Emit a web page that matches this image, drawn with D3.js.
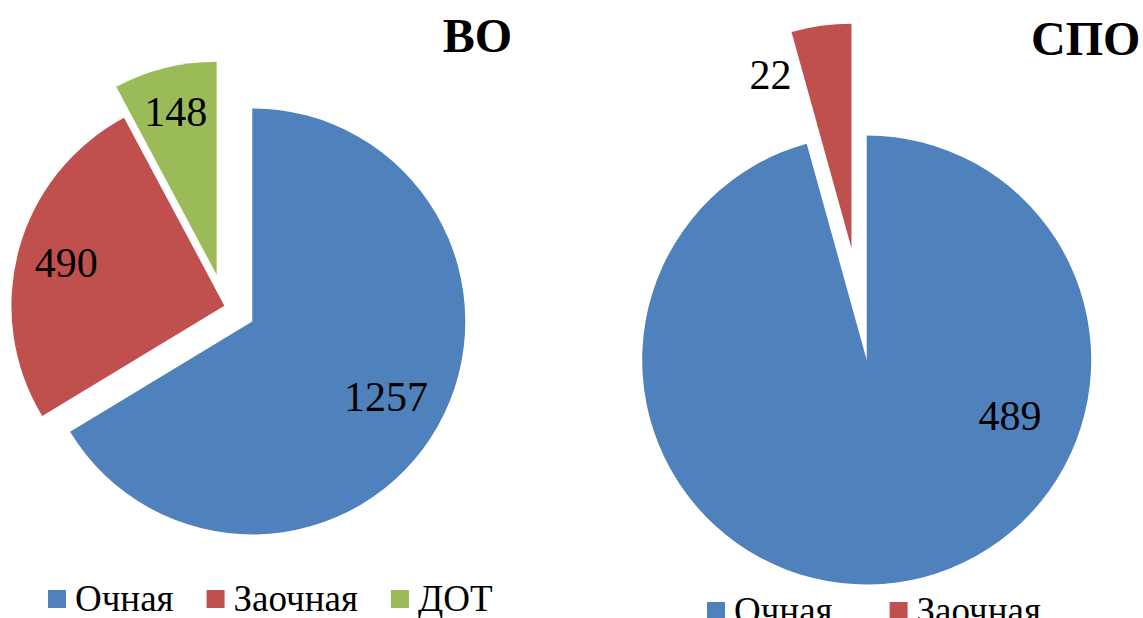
<!DOCTYPE html>
<html>
<head>
<meta charset="utf-8">
<script src="https://cdn.jsdelivr.net/npm/d3@7"></script>
<style>
    body { margin: 0; background: #fff; }
    svg { display: block; }
    text { font-family: "Liberation Serif", "Times New Roman", serif; fill: #000; }
</style>
</head>
<body>
<svg width="1143" height="618"></svg>
<script>
// данные
var voCategories = ["Очная", "Заочная", "ДОТ"];
var voValues = [1257, 490, 148];
var spoCategories = ["Очная", "Заочная"];
var spoValues = [489, 22];
var sliceColors = ["#4F81BD", "#C0504D", "#9BBB59"];

// раскладка двух диаграмм
var charts = [
    {title: "ВО", categories: voCategories, values: voValues,
     cx: 224.4, cy: 305.7, r: 213, explode: [32, 0, 32],
     labels: [[null, 0.72], [null, 0.77], [null, 0.79]],
     titleX: 512, titleY: 52, titleAnchor: "end",
     legendX: 48, legendY: 611, legendGap: 33},
    {title: "СПО", categories: spoCategories, values: spoValues,
     cx: 866.7, cy: 360, r: 224.5, explode: [0, 112.7],
     labels: [[111.4, 0.686], [335, 0.855]],
     titleX: 1031, titleY: 55, titleAnchor: "start",
     legendX: 707, legendY: 623, legendGap: 57}
];

var svg = d3.select("svg");
var pie = d3.pie().sort(null).value(function (d) {return d;});

charts.forEach(function (c) {
    var arcs = pie(c.values);
    var arc = d3.arc().innerRadius(0).outerRadius(c.r);
    var g = svg.append("g").attr("transform", "translate(" + c.cx + "," + c.cy + ")");

    // сдвиг вырезанных секторов
    function offset(d, i) {
        var mid = (d.startAngle + d.endAngle) / 2;
        var e = c.explode[i] || 0;
        return [Math.sin(mid) * e, -Math.cos(mid) * e];
    }

    g.selectAll(".slice")
        .data(arcs)
        .enter()
        .append("path")
        .attr("class", "slice")
        .attr("d", arc)
        .attr("fill", function (d, i) {return sliceColors[i];})
        .attr("transform", function (d, i) {
            var o = offset(d, i);
            return "translate(" + o[0] + "," + o[1] + ")";
        });

    g.selectAll(".lbl")
        .data(arcs)
        .enter()
        .append("text")
        .attr("class", "lbl")
        .attr("text-anchor", "middle")
        .attr("dy", "0.34em")
        .style("font-size", "42px")
        .attr("transform", function (d, i) {
            var o = offset(d, i);
            var a = c.labels[i][0] == null ? (d.startAngle + d.endAngle) / 2 : c.labels[i][0] * Math.PI / 180;
            var rr = c.labels[i][1] * c.r;
            return "translate(" + (o[0] + Math.sin(a) * rr) + "," + (o[1] - Math.cos(a) * rr) + ")";
        })
        .text(function (d) {return d.data;});

    svg.append("text")
        .attr("x", c.titleX)
        .attr("y", c.titleY)
        .attr("text-anchor", c.titleAnchor)
        .style("font-size", "48px")
        .style("font-weight", "bold")
        .text(c.title);

    // легенда
    var x = c.legendX;
    c.categories.forEach(function (name, i) {
        svg.append("rect")
            .attr("x", x)
            .attr("y", c.legendY - 21)
            .attr("width", 18)
            .attr("height", 18)
            .attr("fill", sliceColors[i]);
        var t = svg.append("text")
            .attr("x", x + 27)
            .attr("y", c.legendY)
            .style("font-size", "37px")
            .text(name);
        x = x + 27 + t.node().getComputedTextLength() + c.legendGap;
    });
});
</script>
</body>
</html>
